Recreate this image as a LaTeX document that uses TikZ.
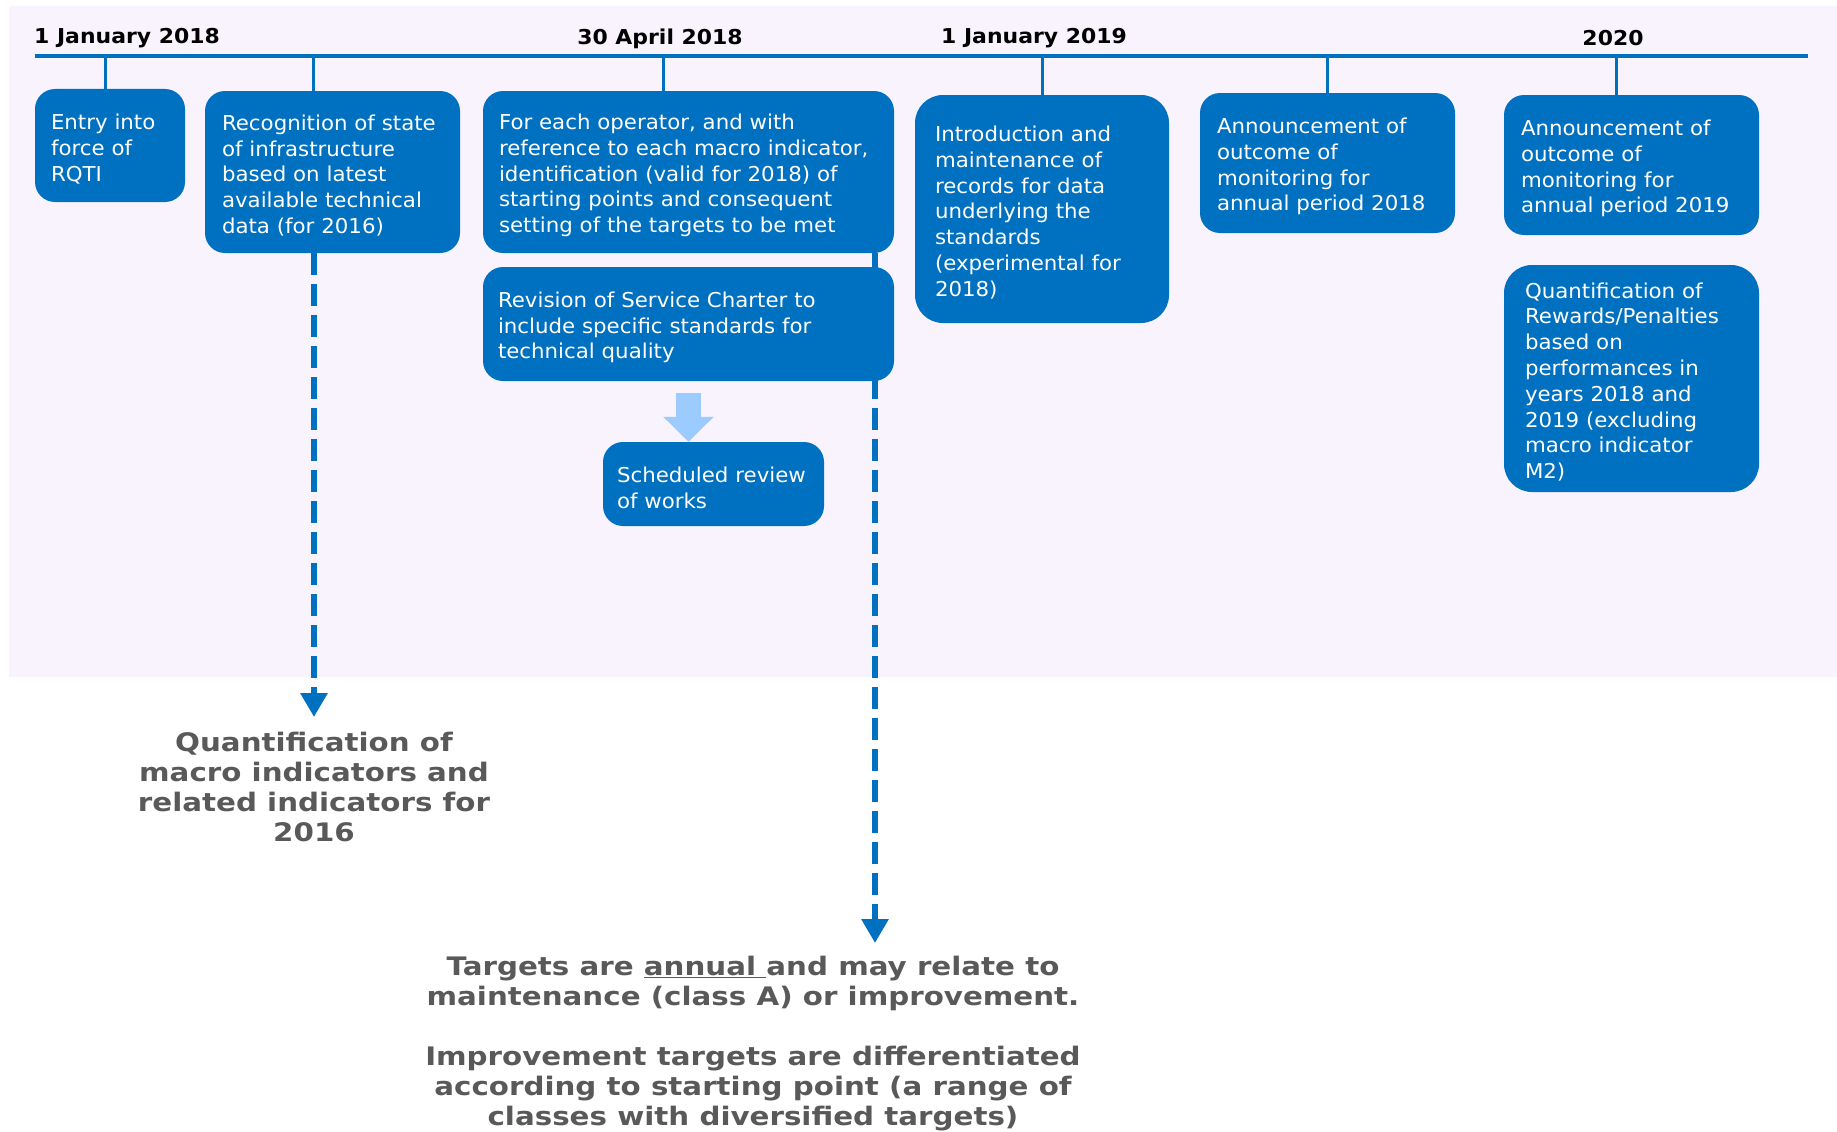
\documentclass[tikz,border=0pt]{standalone}
\usepackage{fontspec}
\setmainfont{DejaVu Sans}[FakeStretch=1.04]
\newfontfamily\datefont{DejaVu Sans}[FakeStretch=1.07]
\newfontfamily\notefont{DejaVu Sans}[FakeStretch=1.15]
\usepackage{xcolor}
\usetikzlibrary{arrows.meta}

\definecolor{boxblue}{HTML}{0070C0}
\definecolor{lightarrow}{HTML}{9BCBFF}
\definecolor{bgpurple}{HTML}{F8F3FD}
\definecolor{notegray}{HTML}{595959}

\tikzset{
  evtbox/.style={fill=boxblue, text=white, rounded corners=20pt, inner sep=0pt,
    align=left, font=\fontsize{20.5}{25.8}\selectfont,
    execute at begin node={\rule{0pt}{22.5pt}}},
  datelbl/.style={font=\datefont\bfseries\fontsize{20.5}{23}\selectfont, inner sep=0pt},
  stem/.style={boxblue, line width=3pt},
  dasharrow/.style={boxblue, line width=6pt, dash pattern=on 22pt off 9pt,
    -{Triangle[width=26pt,length=24pt]}},
  blockarrow/.style={lightarrow, line width=25pt, -{Triangle[width=49pt,length=25pt]}},
  notetext/.style={text=notegray, font=\notefont\bfseries\fontsize{25.5}{30}\selectfont,
    align=center, inner sep=0pt}
}

\begin{document}
\begin{tikzpicture}[x=1pt,y=-1pt]
  \useasboundingbox (0,0) rectangle (1837,1132);
  \fill[bgpurple] (9,6) rectangle (1837,677);

  % timeline and dates
  \coordinate (tlA) at (35,56);
  \coordinate (tlB) at (1808,56);
  \draw[boxblue, line width=4pt] (tlA) -- (tlB);
  \node[datelbl] (d1) at (127,38.5) {1 January 2018};
  \node[datelbl] (d2) at (660,38.5) {30 April 2018};
  \node[datelbl] (d3) at (1034,38.5) {1 January 2019};
  \node[datelbl] (d4) at (1613,38.5) {2020};

  % events
  \node[evtbox, minimum width=150pt, text width=118pt, minimum height=113pt] (b1) at (110,145.5)
    {Entry into\\force of\\RQTI};
  \node[evtbox, minimum width=255pt, text width=221pt, minimum height=162pt] (b2) at (332.5,172)
    {Recognition of state\\of infrastructure\\based on latest\\available technical\\data (for 2016)};
  \node[evtbox, minimum width=411pt, text width=379pt, minimum height=162pt] (b3) at (688.5,172)
    {For each operator, and with\\reference to each macro indicator,\\identification (valid for 2018) of\\starting points and consequent\\setting of the targets to be met};

  % arrow behind the revision box
  \coordinate (e2) at (875,943);
  \draw[dasharrow] (e2 |- b3.south) -- (e2);

  \node[evtbox, minimum width=411pt, text width=381pt, minimum height=114pt] (b4) at (688.5,324)
    {Revision of Service Charter to\\include specific standards for\\technical quality};
  \node[evtbox, minimum width=221pt, text width=193pt, minimum height=84pt] (b5) at (713.5,484)
    {Scheduled review\\of works};
  \node[evtbox, rounded corners=28pt, minimum width=254pt, text width=214pt, minimum height=228pt] (b6) at (1042,209)
    {Introduction and\\maintenance of\\records for data\\underlying the\\standards\\(experimental for\\2018)};
  \node[evtbox, minimum width=255pt, text width=221pt, minimum height=140pt] (b7) at (1327.5,163)
    {Announcement of\\outcome of\\monitoring for\\annual period 2018};
  \node[evtbox, minimum width=255pt, text width=221pt, minimum height=140pt] (b8) at (1631.5,165)
    {Announcement of\\outcome of\\monitoring for\\annual period 2019};
  \node[evtbox, rounded corners=28pt, minimum width=255pt, text width=213pt, minimum height=227pt] (b9) at (1631.5,378.5)
    {Quantification of\\Rewards/Penalties\\based on\\performances in\\years 2018 and\\2019 (excluding\\macro indicator\\M2)};

  % stems from the timeline
  \coordinate (t1) at (105,56);
  \coordinate (t2) at (313,56);
  \coordinate (t3) at (663,56);
  \coordinate (t6) at (1042,56);
  \coordinate (t7) at (1327,56);
  \coordinate (t8) at (1616,56);
  \draw[stem] (t1) -- (t1 |- b1.north);
  \draw[stem] (t2) -- (t2 |- b2.north);
  \draw[stem] (t3) -- (t3 |- b3.north);
  \draw[stem] (t6) -- (t6 |- b6.north);
  \draw[stem] (t7) -- (t7 |- b7.north);
  \draw[stem] (t8) -- (t8 |- b8.north);

  \draw[blockarrow] ([yshift=-12pt]b4.south) -- (b4.south |- b5.north);

  % notes below
  \coordinate (e1) at (314,717);
  \draw[dasharrow] (e1 |- b2.south) -- (e1);
  \node[notetext, anchor=north] (n1) at (314,732)
    {Quantification of\\macro indicators and\\related indicators for\\2016};
  \node[notetext, anchor=north] (n2) at (753,956)
    {Targets are \underline{annual\ }and may relate to\\maintenance (class A) or improvement.\\[30pt]
     Improvement targets are differentiated\\according to starting point (a range of\\classes with diversified targets)};
\end{tikzpicture}
\end{document}
